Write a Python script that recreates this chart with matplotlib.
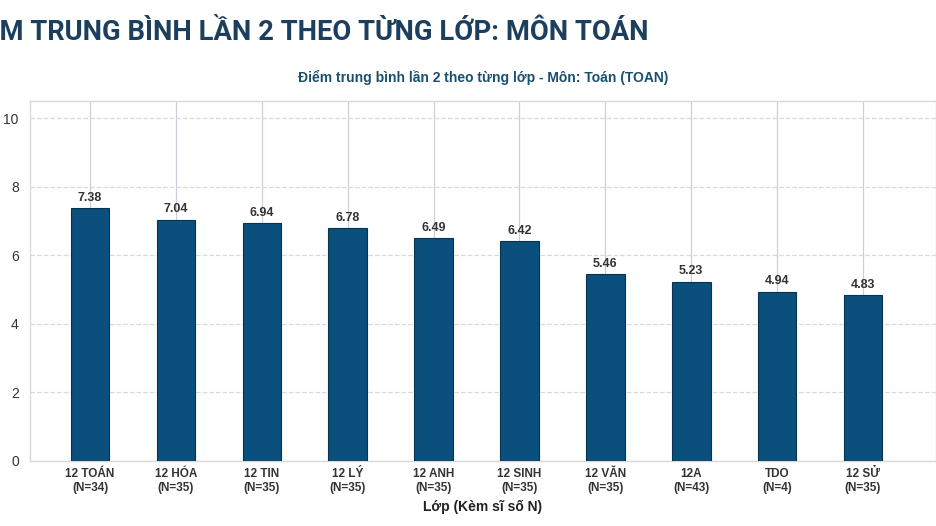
import matplotlib.pyplot as plt
import numpy as np

classes = ["12 TOÁN", "12 HÓA", "12 TIN", "12 LÝ", "12 ANH",
           "12 SINH", "12 VĂN", "12A", "TDO", "12 SỬ"]
counts = [34, 35, 35, 35, 35, 35, 35, 43, 4, 35]
scores = [7.38, 7.04, 6.94, 6.78, 6.49, 6.42, 5.46, 5.23, 4.94, 4.83]

labels = [f"{c}\n(N={n})" for c, n in zip(classes, counts)]

plt.rcParams['font.family'] = ['Liberation Sans', 'DejaVu Sans']

fig = plt.figure(figsize=(9.36, 5.26), dpi=100)
ax = fig.add_axes([0.032, 0.124, 0.968, 0.684])

x = np.arange(len(classes))
bars = ax.bar(x, scores, width=0.45, color='#0B4F7C', edgecolor='#08334f',
              linewidth=0.8, zorder=3)

for b, v in zip(bars, scores):
    ax.text(b.get_x() + b.get_width() / 2, v + 0.12, f"{v:.2f}",
            ha='center', va='bottom', fontsize=9, fontweight='bold', color='#333333')

ax.set_xlim(-0.7, 9.85)
ax.set_ylim(0, 10.5)
ax.set_yticks([0, 2, 4, 6, 8, 10])
ax.set_xticks(x)
ax.set_xticklabels(labels, fontsize=8.5, fontweight='bold', color='#333333', linespacing=1.25)
ax.tick_params(axis='y', labelsize=10, colors='#333333', length=0, pad=8)
ax.tick_params(axis='x', length=0, pad=5)

ax.yaxis.grid(True, linestyle='--', color='#d8d8e0', linewidth=0.9, zorder=0)
ax.xaxis.grid(True, linestyle='-', color='#d0cdd8', linewidth=0.9, zorder=0)
ax.set_axisbelow(True)
for s in ax.spines.values():
    s.set_color('#d8d8d8')
    s.set_linewidth(1.0)

ax.set_xlabel("Lớp (Kèm sĩ số N)", fontsize=10, fontweight='bold', color='#222222', labelpad=4)
ax.set_title("Điểm trung bình lần 2 theo từng lớp - Môn: Toán (TOAN)",
             fontsize=10, fontweight='bold', color='#1b4f6e', pad=14)

# banner heading: only "M TRUNG ... TOÁN" is visible, left part runs off the edge
head_font = ['Roboto', 'DejaVu Sans']
visible = "M TRUNG BÌNH LẦN 2 THEO TỪNG LỚP: MÔN TOÁN"
probe = fig.text(0, 0, visible, fontsize=20, fontweight='bold', family=head_font)
renderer = fig.canvas.get_renderer()
w = probe.get_window_extent(renderer).width
probe.remove()
size = 20 * 646 / w

fig.text(648 / 936, 1 - 33 / 526, "ĐIỂM TRUNG BÌNH LẦN 2 THEO TỪNG LỚP: MÔN TOÁN",
         ha='right', va='center', fontsize=size, fontweight='bold',
         color='#1d3f5e', family=head_font)

fig.savefig('out.png', dpi=100)
